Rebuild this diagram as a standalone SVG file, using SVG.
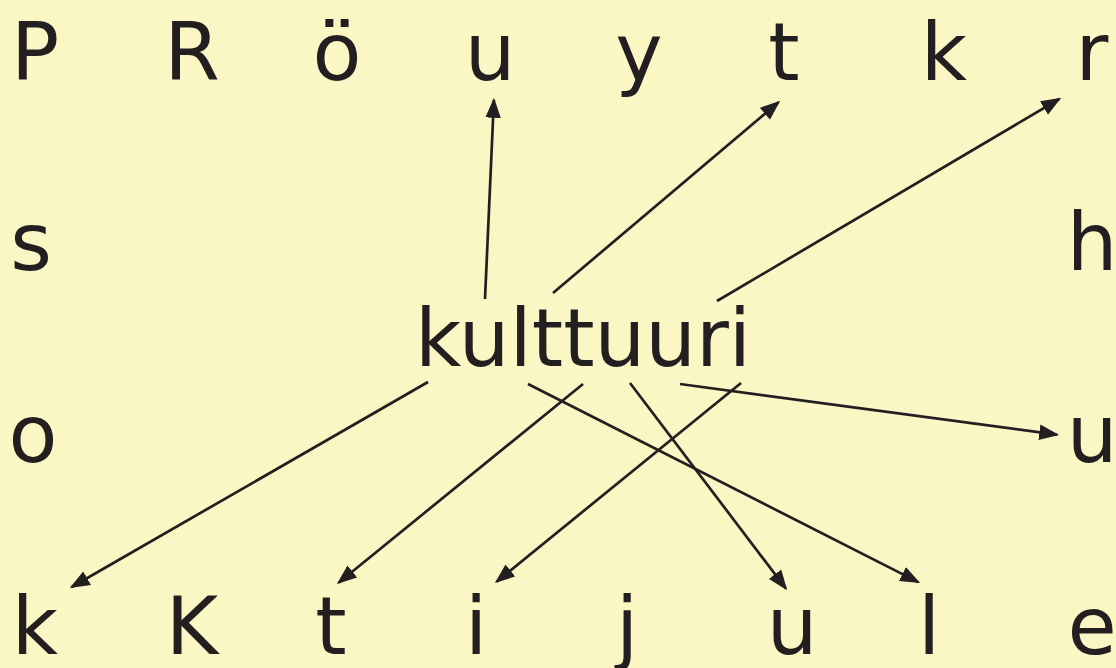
<svg xmlns="http://www.w3.org/2000/svg" width="1116" height="668" viewBox="0 0 1116 668">
<style>
.t{font-family:"DejaVu Sans","Verdana",sans-serif;font-size:80px;fill:#231F20;text-anchor:middle}
.c{stroke:#231F20;stroke-width:2.7;fill:none;marker-end:url(#ah)}
</style>
<defs>
<marker id="ah" markerUnits="userSpaceOnUse" markerWidth="20" markerHeight="16" viewBox="0 0 18 14" refX="16" refY="7" orient="auto">
<path d="M0,0 L18,7 L0,14 z" fill="#231F20"/>
</marker>
</defs>
<rect width="1116" height="668" fill="#FAF7C5"/>
<g id="top-row">
<text id="n-P" class="t" x="35" y="80">P</text>
<text id="n-R" class="t" x="192" y="80">R</text>
<text id="n-oe" class="t" x="337" y="80">ö</text>
<text id="n-u1" class="t" x="490" y="80">u</text>
<text id="n-y" class="t" x="639" y="80">y</text>
<text id="n-t1" class="t" x="784" y="80">t</text>
<text id="n-k1" class="t" x="944" y="80">k</text>
<text id="n-r" class="t" x="1092" y="80">r</text>
</g>
<g id="sides">
<text id="n-s" class="t" x="31" y="270">s</text>
<text id="n-o" class="t" x="33" y="462">o</text>
<text id="n-h" class="t" x="1092" y="270">h</text>
<text id="n-u2" class="t" x="1092" y="462">u</text>
</g>
<g id="center">
<text id="n-kulttuuri" x="415" y="366" style="font-family:'DejaVu Sans',Verdana,sans-serif;font-size:80px;fill:#231F20">kulttuuri</text>
</g>
<g id="bottom-row">
<text id="n-k2" class="t" x="35" y="654">k</text>
<text id="n-K" class="t" x="192" y="654">K</text>
<text id="n-t2" class="t" x="331" y="654">t</text>
<text id="n-i" class="t" x="476" y="654">i</text>
<text id="n-j" class="t" x="627" y="654">j</text>
<text id="n-u3" class="t" x="792" y="654">u</text>
<text id="n-l" class="t" x="929" y="654">l</text>
<text id="n-e" class="t" x="1092" y="654">e</text>
</g>
<g id="connectors">
<line class="c" x1="485" y1="299" x2="493.9" y2="100"/>
<line class="c" x1="553" y1="293" x2="778.5" y2="102.3"/>
<line class="c" x1="717" y1="301" x2="1059.3" y2="99"/>
<line class="c" x1="680" y1="384" x2="1057" y2="434.7"/>
<line class="c" x1="741" y1="383" x2="496.6" y2="581.7"/>
<line class="c" x1="630" y1="383" x2="785.8" y2="588.4"/>
<line class="c" x1="528" y1="384" x2="918.2" y2="582.1"/>
<line class="c" x1="583" y1="384" x2="338.6" y2="582.7"/>
<line class="c" x1="428" y1="382" x2="71.7" y2="587"/>
</g>
</svg>
